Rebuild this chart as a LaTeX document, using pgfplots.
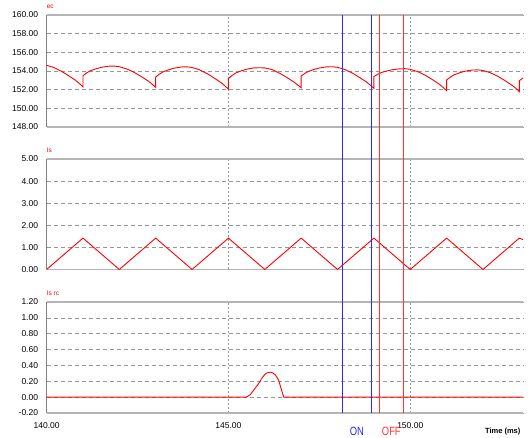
\documentclass[border=0pt]{standalone}
\usepackage{fontspec}
\setmainfont{Liberation Sans}
\newfontfamily\narrowfont[FakeStretch=0.78]{Liberation Sans}
\usepackage{pgfplots}
\pgfplotsset{compat=1.18}
\definecolor{gridgray}{RGB}{150,150,150}
\definecolor{bordergray}{RGB}{180,180,180}
\definecolor{leftgray}{RGB}{130,130,130}
\definecolor{curvered}{RGB}{255,0,0}
\definecolor{cursorblue}{RGB}{40,40,255}
\definecolor{cursorred}{RGB}{255,50,50}
\tikzset{
  ttl/.style={anchor=south west, inner sep=0pt, yshift=6.5pt, text=curvered, font=\fontsize{6.5}{7}\selectfont},
}
\pgfplotsset{
  panel/.style={
    scale only axis, width=476.4pt, xmin=140, xmax=153.1,
    anchor=south west, clip=false,
    axis line style={draw=none},
    major tick length=0pt, tick style={draw=none},
    xtick={140,145,150},
    xmajorgrids, ymajorgrids,
    x grid style={gridgray, dash pattern=on 2pt off 2pt, line width=0.6pt},
    y grid style={gridgray, dash pattern=on 4pt off 3pt, line width=0.6pt},
    scaled ticks=false,
    tick label style={font=\fontsize{8.5}{9}\selectfont},
    yticklabel style={xshift=-5pt, /pgf/number format/.cd, fixed, fixed zerofill, precision=2, assume math mode=true},
    xticklabel style={yshift=-6pt, /pgf/number format/.cd, fixed, fixed zerofill, precision=2, 1000 sep={}, assume math mode=true},
  },
  cursor/.style={at={(46.6pt,25pt)}, anchor=south west, scale only axis, width=476.4pt, height=398pt,
    xmin=140, xmax=153.1, ymin=0, ymax=1, clip=false,
    axis line style={draw=none}, xtick=\empty, ytick=\empty, major tick length=0pt},
}
\begin{document}
\begin{tikzpicture}
\useasboundingbox (0,0) rectangle (531pt,438pt);

% ---------- top panel: ec ----------
\begin{axis}[panel, at={(46.6pt,311pt)}, height=112pt,
  ymin=148, ymax=160, ytick={148,150,152,154,156,158,160}, xticklabels={}]
\draw[bordergray, line width=1.5pt] (rel axis cs:0,0) -- (rel axis cs:1,0);
\draw[bordergray, line width=1.5pt] (rel axis cs:0,1) -- (rel axis cs:1,1);
\draw[leftgray, line width=0.8pt] (rel axis cs:0,0) -- (rel axis cs:0,1);
\addplot[color=curvered, line width=0.9pt] coordinates {
(140.0,154.61)(140.2,154.37)(140.4,153.99)(140.6,153.51)(140.8,152.99)(140.9,152.66)(141.0,152.30)
(141.0,153.50)(141.1,153.79)(141.2,154.02)(141.35,154.22)(141.5,154.39)(141.7,154.51)(141.85,154.53)(142.0,154.46)(142.2,154.23)(142.4,153.87)(142.6,153.41)(142.8,152.91)(142.9,152.59)(143.0,152.25)
(143.0,153.35)(143.1,153.66)(143.2,153.90)(143.35,154.12)(143.5,154.30)(143.7,154.43)(143.85,154.45)(144.0,154.38)(144.2,154.14)(144.4,153.75)(144.6,153.27)(144.8,152.75)(144.9,152.41)(145.0,152.05)
(145.0,153.20)(145.1,153.52)(145.2,153.78)(145.35,154.01)(145.5,154.19)(145.7,154.33)(145.85,154.35)(146.0,154.33)(146.2,154.15)(146.4,153.78)(146.6,153.32)(146.8,152.82)(146.9,152.52)(147.0,152.20)
(147.0,153.46)(147.1,153.74)(147.2,153.96)(147.35,154.16)(147.5,154.32)(147.7,154.44)(147.85,154.46)(148.0,154.39)(148.2,154.16)(148.4,153.79)(148.6,153.32)(148.8,152.81)(148.9,152.49)(149.0,152.14)
(149.0,153.40)(149.1,153.64)(149.2,153.83)(149.35,154.00)(149.5,154.13)(149.7,154.23)(149.85,154.25)(150.0,154.18)(150.2,153.94)(150.4,153.57)(150.6,153.10)(150.8,152.58)(150.9,152.25)(151.0,151.90)
(151.0,153.04)(151.1,153.34)(151.2,153.58)(151.35,153.80)(151.5,153.97)(151.7,154.10)(151.85,154.12)(152.0,154.05)(152.2,153.82)(152.4,153.45)(152.6,152.98)(152.8,152.47)(152.9,152.15)(153.0,151.80)
(153.0,152.96)(153.1,153.25)
};
\node[ttl] at (rel axis cs:0,1) {ec};
\end{axis}

% ---------- middle panel: Is ----------
\begin{axis}[panel, at={(46.6pt,168.5pt)}, height=110.5pt,
  ymin=0, ymax=5, ytick={0,1,2,3,4,5}, xticklabels={}]
\draw[bordergray, line width=1.5pt] (rel axis cs:0,0) -- (rel axis cs:1,0);
\draw[bordergray, line width=1.5pt] (rel axis cs:0,1) -- (rel axis cs:1,1);
\draw[leftgray, line width=0.8pt] (rel axis cs:0,0) -- (rel axis cs:0,1);
\addplot[color=curvered, line width=0.9pt] coordinates {
(140,0)(141,1.42)(142,0)(143,1.42)(144,0)(145,1.42)(146,0)(147,1.42)(148,0)(149,1.42)(150,0)(151,1.42)(152,0)(153,1.42)(153.1,1.35)
};
\node[ttl] at (rel axis cs:0,1) {Is};
\end{axis}

% ---------- bottom panel: Is rc ----------
\begin{axis}[panel, at={(46.6pt,25pt)}, height=111pt,
  ymin=-0.2, ymax=1.2, ytick={-0.2,0,0.2,0.4,0.6,0.8,1.0,1.2}]
\draw[bordergray, line width=1.5pt] (rel axis cs:0,0) -- (rel axis cs:1,0);
\draw[bordergray, line width=1.5pt] (rel axis cs:0,1) -- (rel axis cs:1,1);
\draw[leftgray, line width=0.8pt] (rel axis cs:0,0) -- (rel axis cs:0,1);
\addplot[color=curvered, line width=0.9pt] coordinates {
(140,0)(145.49,0)(145.6,0.03)(145.69,0.086)(145.83,0.17)(145.92,0.24)(146.0,0.285)(146.06,0.305)(146.15,0.315)(146.22,0.305)(146.29,0.28)(146.38,0.215)(146.44,0.12)(146.5,0.03)(146.52,0)(153.1,0)
};
\node[ttl] at (rel axis cs:0,1) {Is rc};
\node[anchor=base east, inner sep=0pt, font=\fontsize{7.5}{8}\selectfont\bfseries, yshift=-21pt] at (rel axis cs:0.995,0) {Time (ms)};
\node[anchor=base, inner sep=0pt, text=cursorblue, yshift=-22.5pt, font=\fontsize{12}{13}\narrowfont] at (axis cs:148.53,-0.2) {ON};
\node[anchor=base, inner sep=0pt, text=cursorred, yshift=-22.5pt, font=\fontsize{12}{13}\narrowfont] at (axis cs:149.48,-0.2) {OFF};
\end{axis}

% ---------- cursor lines, one per (non-hidden, lineless) axis ----------
\begin{axis}[cursor]
\addplot[color=cursorblue, line width=1.2pt] coordinates {(148.14,0) (148.14,1)};
\end{axis}
\begin{axis}[cursor]
\addplot[color=cursorblue, line width=1.2pt] coordinates {(148.93,0) (148.93,1)};
\end{axis}
\begin{axis}[cursor]
\addplot[color=cursorred, line width=1.2pt] coordinates {(149.15,0) (149.15,1)};
\end{axis}
\begin{axis}[cursor]
\addplot[color=cursorred, line width=1.2pt] coordinates {(149.81,0) (149.81,1)};
\end{axis}
\end{tikzpicture}
\end{document}
